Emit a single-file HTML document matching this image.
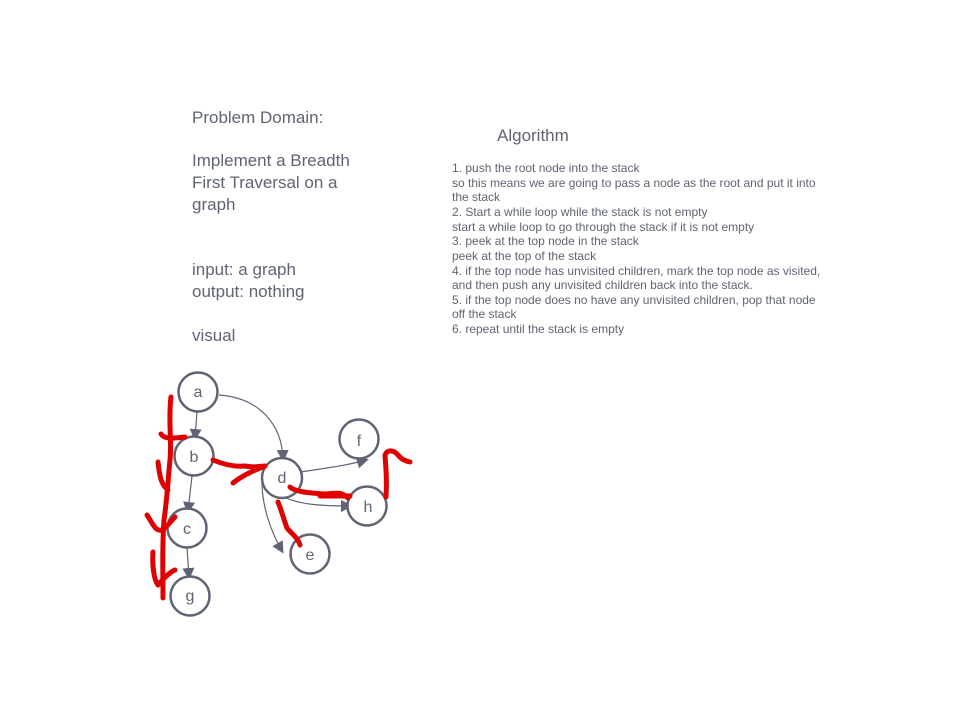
<!DOCTYPE html>
<html><head><meta charset="utf-8"><style>
html,body{margin:0;padding:0;background:#fff;width:970px;height:720px;overflow:hidden}
svg{display:block}
text{font-family:"Liberation Sans",sans-serif;fill:#5f6474}
</style></head><body>
<svg width="970" height="720" viewBox="0 0 970 720">
<defs><marker id="ar" markerWidth="12" markerHeight="12" refX="9" refY="6" orient="auto" markerUnits="userSpaceOnUse"><path d="M0,0 L12,6 L0,12 Z" fill="#5f6474"/></marker></defs>
<g font-size="17">
<text x="192" y="123">Problem Domain:</text>
<text x="192" y="166">Implement a Breadth</text>
<text x="192" y="188">First Traversal on a</text>
<text x="192" y="210">graph</text>
<text x="192" y="275">input: a graph</text>
<text x="192" y="297">output: nothing</text>
<text x="192" y="341">visual</text>
</g>
<text x="497" y="141" font-size="17">Algorithm</text>
<g font-size="12">
<text x="452" y="172">1. push the root node into the stack</text>
<text x="452" y="187">so this means we are going to pass a node as the root and put it into</text>
<text x="452" y="201">the stack</text>
<text x="452" y="216">2. Start a while loop while the stack is not empty</text>
<text x="452" y="231">start a while loop to go through the stack if it is not empty</text>
<text x="452" y="245">3. peek at the top node in the stack</text>
<text x="452" y="260">peek at the top of the stack</text>
<text x="452" y="275">4.  if the top node has unvisited children, mark the top node as visited,</text>
<text x="452" y="289">and then push any unvisited children back into the stack.</text>
<text x="452" y="304">5. if the top node does no have any unvisited children, pop that node</text>
<text x="452" y="318">off the stack</text>
<text x="452" y="333">6. repeat until the stack is empty</text>
</g>
<g stroke="#5f6474" stroke-width="1.2" fill="none" marker-end="url(#ar)">
<path d="M197,412 L195,438"/>
<path d="M219,395 C260,398 282,425 283,459"/>
<path d="M192,476 L188,511"/>
<path d="M187,548 L189,577"/>
<path d="M301,472 C325,468 345,466 366,460"/>
<path d="M284,497 C300,505 325,506 350,506"/>
<path d="M262,482 C262,505 270,530 282,551"/>
</g>
<g stroke="#5f6474" stroke-width="2.5" fill="#fff">
<circle cx="198" cy="392" r="19.5"/>
<circle cx="194" cy="456" r="19.5"/>
<circle cx="187" cy="528" r="19.5"/>
<circle cx="190" cy="596" r="19.5"/>
<circle cx="282" cy="478" r="20"/>
<circle cx="359" cy="439" r="19.5"/>
<circle cx="367" cy="506" r="19.5"/>
<circle cx="310" cy="554" r="19.5"/>
</g>
<g font-size="16" text-anchor="middle">
<text x="198" y="397">a</text><text x="194" y="462">b</text><text x="187" y="534">c</text><text x="190" y="601">g</text>
<text x="282" y="483">d</text><text x="359" y="446">f</text><text x="368" y="512">h</text><text x="310" y="560">e</text>
</g>
<g stroke="#e00000" stroke-width="5" fill="none" stroke-linecap="round" stroke-linejoin="round">
<path d="M171,397 C168,420 172,440 170,460 C168,480 167,500 164,520 C162,545 163,570 163,598"/>
<path d="M161,434 C165,440 175,438 185,437"/>
<path d="M158,462 C160,480 162,485 168,490"/>
<path d="M147,515 C152,522 155,532 162,530 C168,526 172,520 175,517"/>
<path d="M153,552 C152,565 154,580 158,585 C164,578 170,572 175,570"/>
<path d="M213,460 C225,465 235,467 245,466 C255,468 262,466 265,466 C255,470 243,475 233,483"/>
<path d="M290,487 C295,492 310,493 325,494 C338,493 342,492 348,498"/>
<path d="M320,496 L350,496"/>
<path d="M278,502 C282,512 284,520 287,528 C292,534 298,538 300,545"/>
<path d="M386,497 C387,480 386,470 385,455 C387,450 393,449 398,455 C402,460 406,461 410,462"/>
</g>
</svg>
</body></html>
